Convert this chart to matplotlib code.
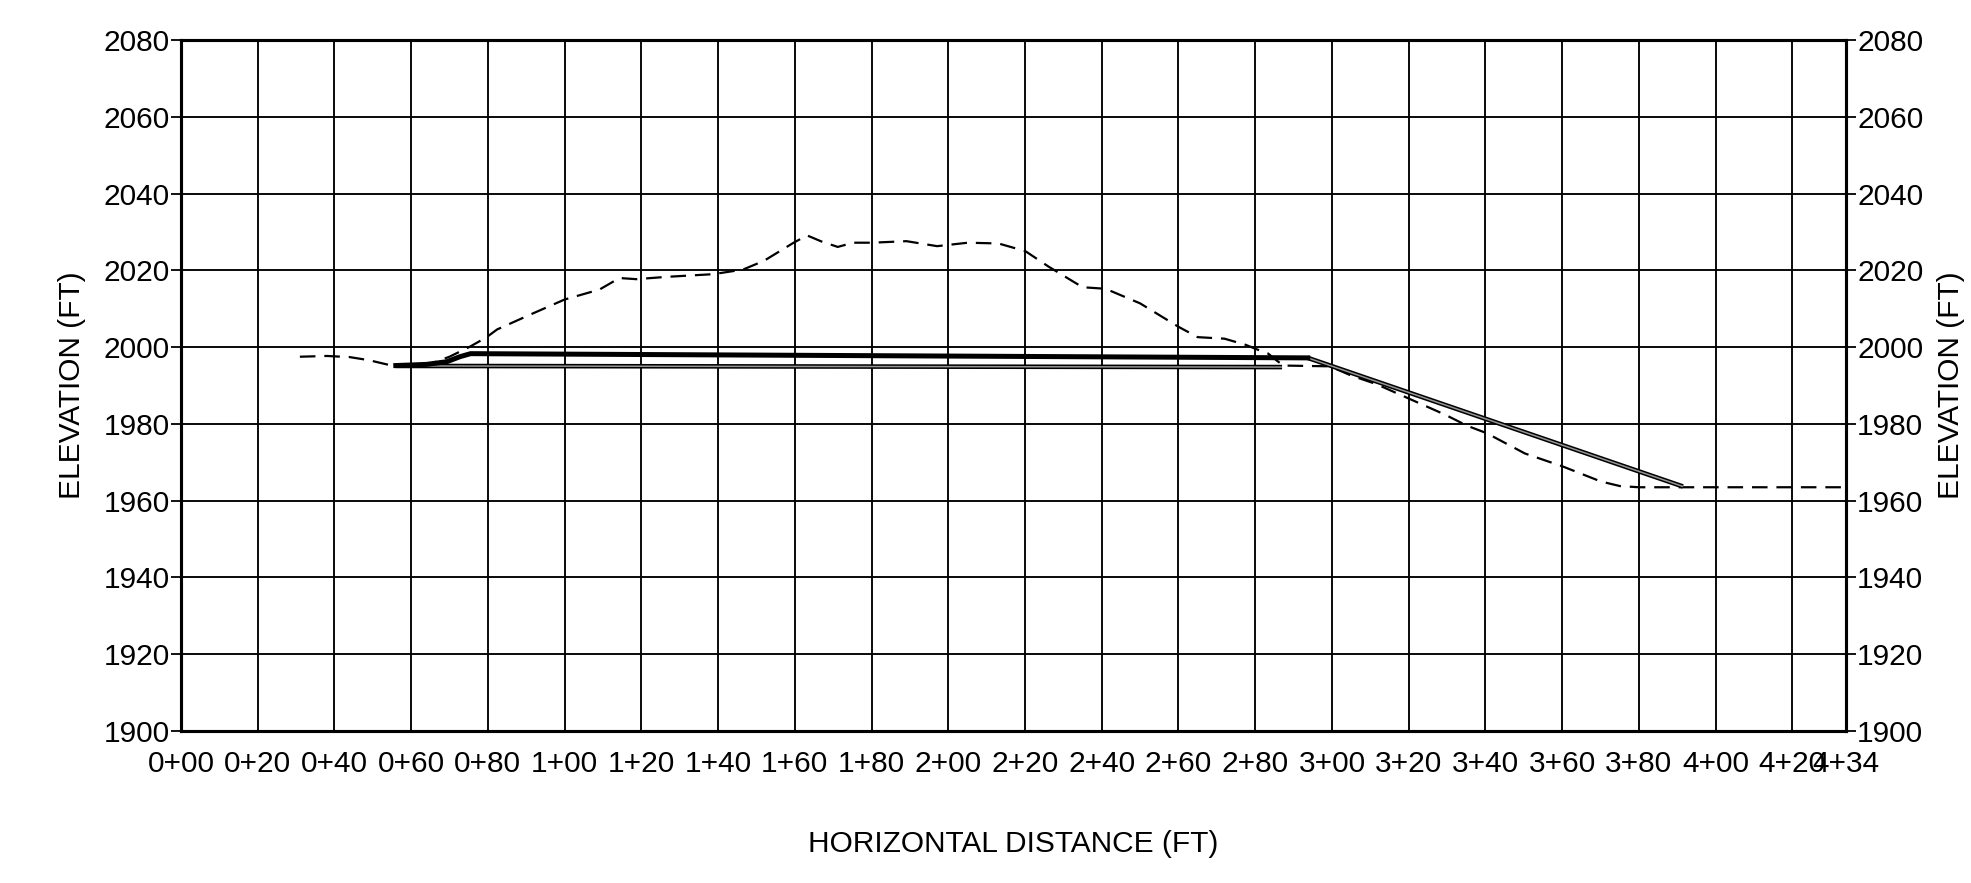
import matplotlib
matplotlib.use('Agg')
import matplotlib.pyplot as plt

# Terreno existente (linea discontinua)
ground_x = [31, 38, 44, 49, 54.5, 58, 62, 65.7, 70, 75.3, 79.7, 82.4, 91.1, 100,
            109.1, 114.3, 118.7, 126.5, 138.7, 146.5, 152, 159.7, 163.2, 167, 171.2,
            175.2, 180.2, 189.1, 197.1, 205.1, 213.1, 220.1, 226.1, 235, 241, 250,
            260, 265, 272, 277.5, 280.5, 283.4, 285, 287.3, 299.5, 305, 311.5, 320.5,
            329.5, 335.3, 340.3, 350.3, 360.2, 370.1, 375.1, 380, 391.5, 434]
ground_y = [1997.5, 1997.7, 1997.4, 1996.6, 1995.3, 1995.2, 1995.4, 1995.9, 1997.5,
            2000.1, 2002.6, 2004.6, 2008.5, 2012.4, 2015.0, 2018.0, 2017.7, 2018.3,
            2019.0, 2020.2, 2022.5, 2027.2, 2029.1, 2027.5, 2026.1, 2027.2, 2027.2,
            2027.6, 2026.3, 2027.2, 2027.0, 2025.0, 2021.0, 2015.6, 2015.2, 2011.4,
            2005.3, 2002.6, 2002.2, 2000.6, 1999.4, 1998.3, 1997.0, 1995.2, 1995.0,
            1992.6, 1990.4, 1986.4, 1982.4, 1979.5, 1977.6, 1972.3, 1968.9, 1965.0,
            1963.8, 1963.5, 1963.5, 1963.5]

# Rasante superior (linea gruesa)
top_x = [56, 64, 69.3, 72.7, 75.5, 293.7]
top_y = [1995.2, 1995.5, 1996.2, 1997.5, 1998.3, 1997.2]

# Linea inferior (doble)
low_x = [56, 287]
low_y = [1995.1, 1994.8]

# Talud
slope_x = [293.7, 391.5]
slope_y = [1997.2, 1963.7]

# Ejes
x_ticks = list(range(0, 421, 20)) + [434]
x_labels = [f'{t // 100}+{t % 100:02d}' for t in x_ticks]
y_ticks = list(range(1900, 2081, 20))

plt.rcParams['font.family'] = ['Liberation Sans', 'DejaVu Sans']

fig = plt.figure(figsize=(19.71, 8.83), dpi=100)
ax = fig.add_axes([0.0918, 0.1721, 0.8448, 0.7826])

ax.set_xlim(0, 434)
ax.set_ylim(1900, 2080)

# Rejilla
for xv in range(20, 421, 20):
    ax.axvline(xv, color='black', lw=1.35, zorder=1)
for yv in y_ticks[1:-1]:
    ax.axhline(yv, color='black', lw=1.35, zorder=1)

# Terreno existente
ax.plot(ground_x, ground_y, color='black', lw=1.6, dashes=(7, 4), zorder=3)

# Lineas dobles (borde negro, interior gris)
for xs, ys in [(low_x, low_y), (slope_x, slope_y)]:
    ax.plot(xs, ys, color='black', lw=3.3, solid_capstyle='butt', zorder=4)
    ax.plot(xs, ys, color='#959595', lw=1.1, solid_capstyle='butt', zorder=5)

# Rasante superior
ax.plot(top_x, top_y, color='black', lw=3.6, solid_joinstyle='round', zorder=6)

ax.set_xticks(x_ticks)
ax.set_xticklabels(x_labels)
ax.set_yticks(y_ticks)
ax.tick_params(axis='x', length=0, pad=14, labelsize=21.5)
ax.tick_params(axis='y', length=7, width=1.3, pad=1, labelsize=21.5)
for sp in ax.spines.values():
    sp.set_linewidth(2.2)

ax.set_xlabel('HORIZONTAL DISTANCE (FT)', fontsize=21.5, labelpad=37)
ax.set_ylabel('ELEVATION (FT)', fontsize=21.5, labelpad=13)

# Eje derecho
ax2 = ax.twinx()
ax2.set_ylim(1900, 2080)
ax2.set_yticks(y_ticks)
ax2.tick_params(axis='y', length=7, width=1.3, pad=1, labelsize=21.5)
ax2.set_ylabel('ELEVATION (FT)', fontsize=21.5, labelpad=10)
for sp in ax2.spines.values():
    sp.set_linewidth(2.2)

fig.savefig('out.png', dpi=100)
